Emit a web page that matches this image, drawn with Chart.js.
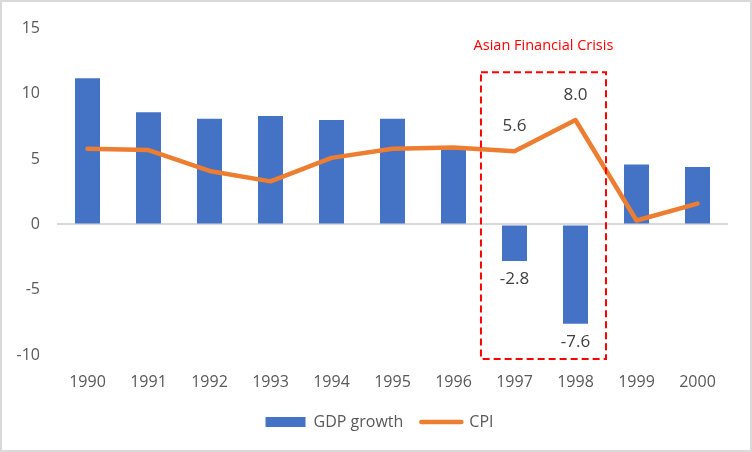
<!DOCTYPE html>
<html>
<head>
<meta charset="utf-8">
<script src="https://cdn.jsdelivr.net/npm/chart.js@4/dist/chart.umd.min.js"></script>
<style>
  html, body { margin: 0; padding: 0; background: #fff; }
  #wrap { width: 752px; height: 452px; box-sizing: border-box; border: 2px solid #d9d9d9; }
</style>
</head>
<body>
<div id="wrap"><canvas id="c" width="748" height="448"></canvas></div>
<script>
// data
const years = ['1990','1991','1992','1993','1994','1995','1996','1997','1998','1999','2000'];
const gdpGrowth = [11.2, 8.6, 8.1, 8.3, 8.0, 8.1, 5.7, -2.8, -7.6, 4.6, 4.4];
const cpi = [5.8, 5.7, 4.1, 3.3, 5.1, 5.8, 5.9, 5.6, 8.0, 0.3, 1.6];
const yTicks = [-10, -5, 0, 5, 10, 15];
const labelledYears = ['1997', '1998'];
const crisisLabel = 'Asian Financial Crisis';
const crisisRange = ['1997', '1998']; // years inside the dashed box

const FONT = '"Open Sans", "Liberation Sans", sans-serif';
const BLUE = '#4472C4', ORANGE = '#ED7D31', GREY = '#595959';

// value labels for the crisis years + dashed box and its title
const annotations = {
  id: 'annotations',
  afterDatasetsDraw(chart) {
    const {ctx, scales: {x, y}} = chart;
    ctx.save();
    ctx.font = '17px ' + FONT;
    ctx.fillStyle = '#404040';
    ctx.textAlign = 'center';
    ctx.textBaseline = 'middle';
    labelledYears.forEach(yr => {
      const i = years.indexOf(yr);
      const bar = chart.getDatasetMeta(0).data[i];
      const pt = chart.getDatasetMeta(1).data[i];
      ctx.fillText(gdpGrowth[i].toFixed(1), bar.x, bar.y + 18);
      ctx.fillText(cpi[i].toFixed(1), pt.x, pt.y - 25);
    });

    // dashed box around the crisis years
    const i0 = years.indexOf(crisisRange[0]), i1 = years.indexOf(crisisRange[1]);
    const half = (x.getPixelForValue(1) - x.getPixelForValue(0)) / 2;
    const left = x.getPixelForValue(i0) - half * 1.1;
    const right = x.getPixelForValue(i1) + half;
    const top = y.getPixelForValue(11.65);
    const bottom = y.getPixelForValue(-10.3);
    ctx.strokeStyle = '#FF0000';
    ctx.lineWidth = 2;
    ctx.setLineDash([7, 4]);
    ctx.strokeRect(left, top, right - left, bottom - top);
    ctx.setLineDash([]);

    ctx.font = '14.5px ' + FONT;
    ctx.fillStyle = '#FF0000';
    ctx.fillText(crisisLabel, (left + right) / 2, top - 26);
    ctx.restore();
  }
};

new Chart(document.getElementById('c'), {
  data: {
    labels: years,
    datasets: [
      { type: 'bar', label: 'GDP growth', data: gdpGrowth, backgroundColor: BLUE, borderWidth: 0,
        categoryPercentage: 1, barPercentage: 0.41, order: 1 },
      { type: 'line', label: 'CPI', data: cpi, borderColor: ORANGE, backgroundColor: ORANGE,
        borderWidth: 4.5, pointRadius: 0, tension: 0, borderCapStyle: 'round', borderJoinStyle: 'round', order: 0 }
    ]
  },
  options: {
    responsive: false,
    animation: false,
    layout: { padding: { top: 21, right: 0, left: 7, bottom: 10 } },
    scales: {
      x: {
        afterFit: s => { s.height = 41; },
        grid: { display: false, drawTicks: false },
        border: { display: false },
        ticks: { color: GREY, font: { family: FONT, size: 16 }, padding: 18, maxRotation: 0 }
      },
      y: {
        min: -10, max: 15,
        afterBuildTicks: s => { s.ticks = yTicks.map(v => ({ value: v })); },
        afterFit: s => { s.width = 48; },
        border: { display: false },
        grid: {
          drawTicks: false,
          color: c => c.tick && c.tick.value === 0 ? '#d9d9d9' : 'transparent',
          lineWidth: 2
        },
        ticks: { color: GREY, font: { family: FONT, size: 16 }, padding: 17 }
      },
      // empty right-hand margin so the legend sits centred like the original
      margin: {
        type: 'linear', position: 'right', display: true,
        afterFit: s => { s.width = 22; },
        grid: { display: false, drawTicks: false },
        border: { display: false },
        ticks: { display: false }
      }
    },
    plugins: {
      tooltip: { enabled: false },
      legend: {
        position: 'bottom',
        labels: {
          usePointStyle: true,
          pointStyleWidth: 40,
          boxHeight: 10,
          padding: 18,
          color: GREY,
          font: { family: FONT, size: 16 },
          generateLabels: chart => chart.data.datasets.map((ds, i) => ({
            text: ds.label,
            datasetIndex: i,
            fillStyle: ds.backgroundColor,
            strokeStyle: ds.type === 'line' ? ds.borderColor : ds.backgroundColor,
            lineWidth: ds.type === 'line' ? 4.5 : 0,
            lineCap: 'round',
            pointStyle: ds.type === 'line' ? 'line' : 'rect',
            fontColor: GREY,
            hidden: false
          }))
        }
      }
    }
  },
  plugins: [annotations]
});
</script>
</body>
</html>
